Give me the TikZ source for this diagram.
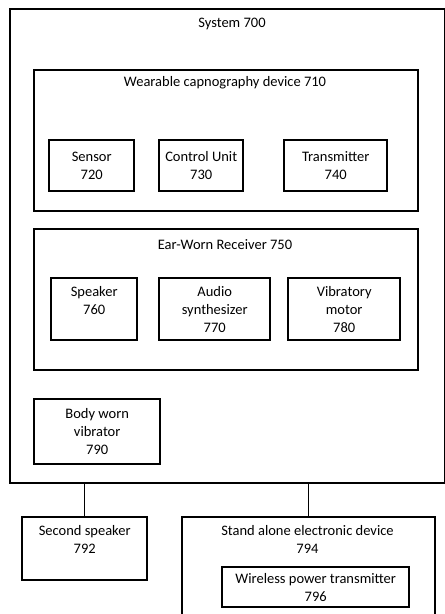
\documentclass[tikz,border=0pt]{standalone}
\usepackage{fontspec}
\setmainfont{Carlito}
\usetikzlibrary{positioning}

\begin{document}
\begin{tikzpicture}[x=1pt,y=-1pt,
    every node/.append style={font=\fontsize{14.5}{18}\selectfont},
    group/.style={draw, line width=2.4pt, anchor=north west, inner sep=0pt},
    box/.style={draw, line width=2.4pt, anchor=north west, align=center, inner sep=0pt},
    title/.style={inner sep=0pt, align=center},
    link/.style={line width=1.3pt}]
    % picture frame, 445 x 614
    \clip (0,0) rectangle (445,614);

    % 1. system frame
    \node [group, minimum width=435pt, minimum height=474pt] (sys) at (9,8) {};
    \node [title] (sysT) at (232,24) {System 700};

    % 2. wearable capnography device
    \node [group, minimum width=384pt, minimum height=141pt] (wear) at (33,69) {};
    \node [title] (wearT) at (225,83) {Wearable capnography device 710};
    \node [box, minimum width=85pt, minimum height=51pt] (sensor) at (48,139) {Sensor\\720};
    \node [box, minimum width=84pt, minimum height=51pt] (ctrl) at (158,139) {Control Unit\\730};
    \node [box, minimum width=103pt, minimum height=51pt] (trans) at (283,139) {Transmitter\\740};

    % 3. ear-worn receiver
    \node [group, minimum width=384pt, minimum height=141pt] (ear) at (33,228) {};
    \node [title] (earT) at (225,245) {Ear-Worn Receiver 750};
    \node [box, minimum width=86pt, minimum height=62pt] (spk) at (50,277) {Speaker\\760\\\phantom{0}};
    \node [box, minimum width=111pt, minimum height=62pt] (synth) at (158,277) {Audio\\synthesizer\\770};
    \node [box, minimum width=112pt, minimum height=62pt] (vib) at (287,277) {Vibratory\\motor\\780};

    % body worn vibrator
    \node [box, minimum width=126pt, minimum height=65pt] (body) at (33,398) {Body worn\\vibrator\\790};

    % 4. outside the system
    \node [box, minimum width=125pt, minimum height=63pt] (second) at (21,516) {Second speaker\\792\\\phantom{0}};
    \node [group, minimum width=253pt, minimum height=120pt] (stand) at (181,516) {};
    \node [title] (standT) at (307.5,539) {Stand alone electronic device\\794};
    \node [box, minimum width=187pt, minimum height=40pt] (wpt) at (221,566) {Wireless power transmitter\\796};

    \draw [link] (sys.south -| second.north) -- (second.north);
    \draw [link] (sys.south -| stand.north) -- (stand.north);
\end{tikzpicture}
\end{document}
